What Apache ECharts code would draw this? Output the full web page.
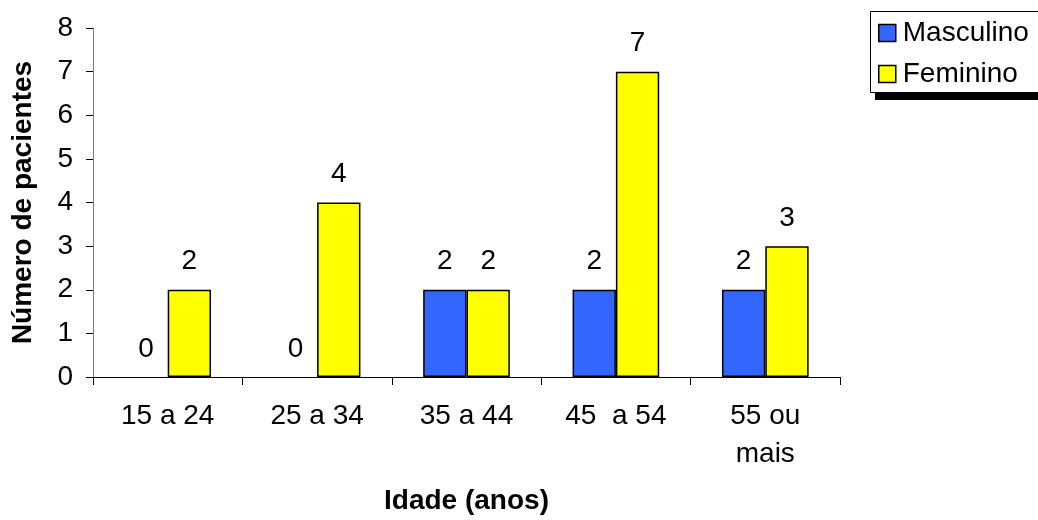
<!DOCTYPE html>
<html>
<head>
<meta charset="utf-8">
<script src="https://cdn.jsdelivr.net/npm/echarts@6/dist/echarts.min.js"></script>
<style>
  html, body { margin: 0; padding: 0; background: #fff; }
  #chart { width: 1038px; height: 520px; }
</style>
</head>
<body>
<div id="chart"></div>
<script>
// Age groups and patient counts by sex
const faixas = ['15 a 24', '25 a 34', '35 a 44', '45  a 54', '55 ou\nmais'];
const masculino = [0, 0, 2, 2, 2];
const feminino = [2, 4, 2, 7, 3];
const yTicks = { min: 0, max: 8, interval: 1 };

const FONT = '"Liberation Sans", Arial, sans-serif';
const FS = 28;

const chart = echarts.init(document.getElementById('chart'), null, { renderer: 'canvas' });

const barLabel = {
  show: true,
  position: 'top',
  distance: 14,
  color: '#000',
  fontFamily: FONT,
  fontSize: FS
};

// zero-height bars carry no outline, so the axis line is not doubled
const asBars = arr => arr.map(v => (v === 0 ? { value: v, itemStyle: { borderWidth: 0 } } : v));

chart.setOption({
  animation: false,
  backgroundColor: '#fff',
  textStyle: { fontFamily: FONT },
  grid: { left: 93, right: 198, top: 28, bottom: 142, containLabel: false },
  // legend frame with its drop shadow
  graphic: [
    { type: 'rect', z: 0, shape: { x: 875, y: 18, width: 200, height: 82 }, style: { fill: '#000' } },
    { type: 'rect', z: 1, shape: { x: 870.5, y: 11.5, width: 200, height: 81 }, style: { fill: '#fff', stroke: '#000', lineWidth: 1 } }
  ],
  legend: {
    orient: 'vertical',
    left: 870,
    top: 11,
    z: 5,
    icon: 'rect',
    itemWidth: 17,
    itemHeight: 17,
    itemGap: 13,
    padding: [8, 10, 6, 8],
    itemStyle: { borderColor: '#000', borderWidth: 1.5 },
    textStyle: { color: '#000', fontFamily: FONT, fontSize: FS, lineHeight: 28, padding: [0, 0, 0, 2] },
    data: ['Masculino', 'Feminino']
  },
  xAxis: {
    type: 'category',
    data: faixas,
    boundaryGap: true,
    name: 'Idade (anos)',
    nameLocation: 'middle',
    nameGap: 110,
    nameTextStyle: { color: '#000', fontFamily: FONT, fontSize: FS, fontWeight: 'bold' },
    axisLine: { show: true, lineStyle: { color: '#000', width: 1 } },
    axisTick: { show: true, alignWithLabel: false, length: 8, lineStyle: { color: '#000' } },
    axisLabel: { color: '#000', fontFamily: FONT, fontSize: FS, margin: 20, lineHeight: 38 },
    splitLine: { show: false }
  },
  yAxis: {
    type: 'value',
    min: yTicks.min,
    max: yTicks.max,
    interval: yTicks.interval,
    name: 'Número de pacientes',
    nameLocation: 'middle',
    nameGap: 56,
    nameTextStyle: { color: '#000', fontFamily: FONT, fontSize: FS, fontWeight: 'bold' },
    axisLine: { show: true, lineStyle: { color: '#808080', width: 1 } },
    axisTick: { show: true, length: 7, lineStyle: { color: '#000' } },
    axisLabel: { color: '#000', fontFamily: FONT, fontSize: FS, margin: 20 },
    splitLine: { show: false }
  },
  series: [
    {
      name: 'Masculino',
      type: 'bar',
      data: asBars(masculino),
      barGap: '0%',
      barCategoryGap: '42%',
      itemStyle: { color: '#3366FF', borderColor: '#000', borderWidth: 1.5 },
      label: barLabel
    },
    {
      name: 'Feminino',
      type: 'bar',
      data: asBars(feminino),
      barGap: '0%',
      barCategoryGap: '42%',
      itemStyle: { color: '#FFFF00', borderColor: '#000', borderWidth: 1.5 },
      label: barLabel
    }
  ]
});
</script>
</body>
</html>
